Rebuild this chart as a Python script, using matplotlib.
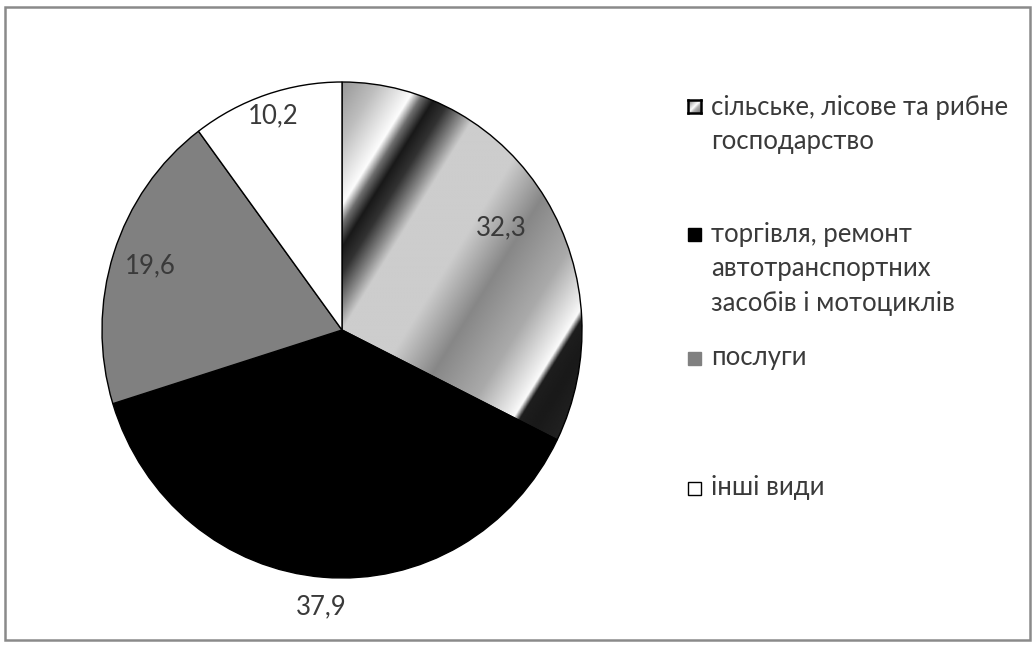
import numpy as np
import matplotlib.pyplot as plt
from matplotlib.patches import Rectangle

# sector shares, %
labels = ["сільське, лісове та рибне\nгосподарство",
          "торгівля, ремонт\nавтотранспортних\nзасобів і мотоциклів",
          "послуги",
          "інші види"]
values = [32.3, 37.9, 19.6, 10.2]
colors = ["none", "#000000", "#808080", "#ffffff"]

plt.rcParams['font.family'] = ['Lato', 'DejaVu Sans']
txt_color = "#3a3a3a"

W, H = 1036, 648
fig = plt.figure(figsize=(W / 100, H / 100), dpi=100)

# outer frame
fig.add_artist(Rectangle((5 / W, 8 / H), 1025 / W, 633 / H, transform=fig.transFigure,
                         fill=False, edgecolor="#8a8a8a", linewidth=1.8))

# pie axes (slightly elliptical, like the original)
cx, cy, rx, ry = 342, 330, 240, 248
ax = fig.add_axes([(cx - rx) / W, (H - cy - ry) / H, 2 * rx / W, 2 * ry / H])
wedges, _ = ax.pie(values, colors=colors, startangle=90, counterclock=False,
                   wedgeprops=dict(edgecolor="black", linewidth=1.0))
ax.set_aspect('auto')
ax.set_xlim(-1, 1)
ax.set_ylim(-1, 1)
ax.axis('off')

# diagonal gradient fill for the first sector
xs = np.linspace(0, 1, 400)
ys = np.linspace(1, -0.6, 640)
X, Y = np.meshgrid(xs, ys)
s = 0.849 * X * rx - 0.528 * Y * ry
prof_s = [-140, -100, -66, -56, -44, -30, -12, 0, 55, 100, 150, 185, 192, 198, 215, 260]
prof_v = [140, 190, 252, 110, 25, 50, 140, 205, 205, 135, 170, 235, 250, 30, 25, 40]
img = np.interp(s, prof_s, prof_v) / 255.0
im = ax.imshow(img, cmap='gray', vmin=0, vmax=1, extent=[0, 1, -0.6, 1],
               aspect='auto', zorder=0.5, interpolation='bilinear')
im.set_clip_path(wedges[0])
wedges[0].set_zorder(1)

# data labels
label_r = [0.78, 1.12, 0.84, 0.91]
start = 90.0
for v, r in zip(values, label_r):
    mid = np.deg2rad(start - v * 3.6 / 2)
    start -= v * 3.6
    ax.text(r * np.cos(mid), r * np.sin(mid), f"{v:.1f}".replace(".", ","),
            ha='center', va='center', fontsize=18.5, color=txt_color, zorder=5)

# legend
leg_y = [107, 234, 358, 488]
line_h = 34.5
for i, (lab, y) in enumerate(zip(labels, leg_y)):
    for j, line in enumerate(lab.split("\n")):
        fig.text(711 / W, 1 - (y + j * line_h) / H, line, ha='left', va='center',
                 fontsize=18.5, color=txt_color)
    if i == 0:
        lax = fig.add_axes([688 / W, 1 - (y + 6) / H, 13 / W, 13 / H])
        g = np.linspace(0, 1, 20)
        GX, GY = np.meshgrid(g, g)
        d = GX + GY
        lax.imshow(np.interp(d, [0, 0.7, 1.0, 1.3, 2], [0.45, 0.85, 1.0, 0.7, 0.45]),
                   cmap='gray', vmin=0, vmax=1, extent=[0, 1, 0, 1], aspect='auto')
        lax.set_xticks([])
        lax.set_yticks([])
        for sp in lax.spines.values():
            sp.set_linewidth(1.8)
    else:
        fig.add_artist(Rectangle((688 / W, 1 - (y + 7) / H), 13 / W, 13 / H,
                                 transform=fig.transFigure, facecolor=colors[i],
                                 edgecolor="black" if i != 2 else "#808080", linewidth=1.0))

fig.savefig("out.png", dpi=100)
